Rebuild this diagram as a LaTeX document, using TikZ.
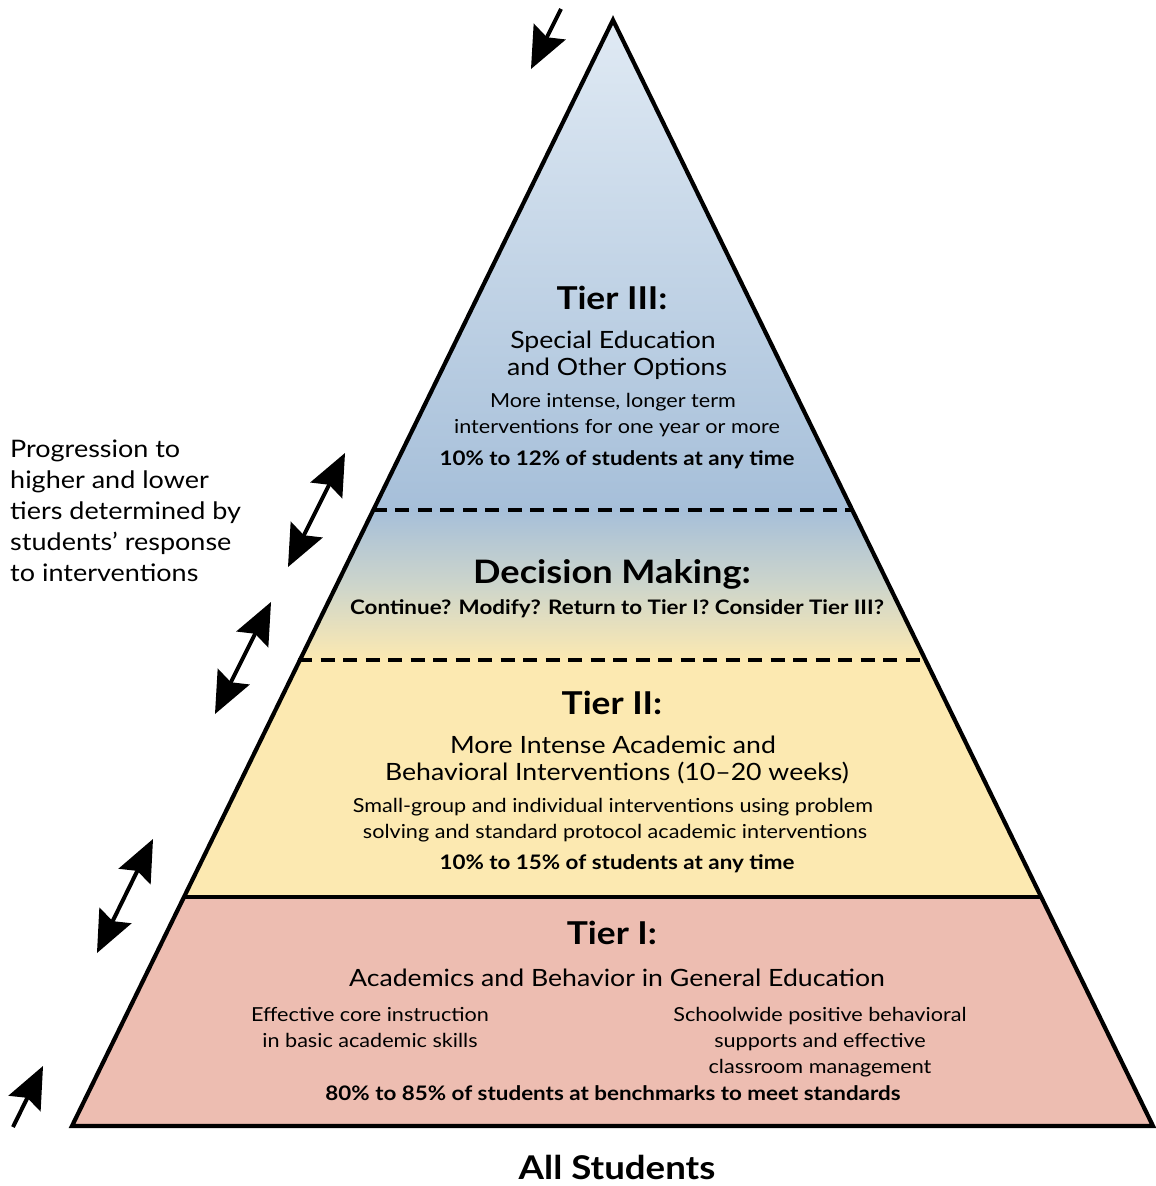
\documentclass[tikz,border=0pt]{standalone}
\usepackage{fontspec}
\setmainfont[FakeStretch=1.12]{Lato}
\usetikzlibrary{calc}
\definecolor{blueTop}{HTML}{E0EAF4}
\definecolor{blueBot}{HTML}{A6BFD9}
\definecolor{decMid}{HTML}{CDD5CB}
\definecolor{yellowT}{HTML}{FCE9B1}
\definecolor{pinkT}{HTML}{EDBDB1}
\newcommand{\fs}[2]{\fontsize{#1}{#2}\selectfont}
% kite-shaped arrow head: tip #1, pointing away from #2
\newcommand{\kitehead}[2]{%
  \fill ($(#1)!42pt!(#2)$) coordinate (kb)
        (#1) -- ($(kb)!18pt!90:(#1)$) -- ($(#1)!35.5pt!(#2)$) -- ($(kb)!18pt!-90:(#1)$) -- cycle;}
\tikzset{
  tiertitle/.style={anchor=base, font=\fs{31.5}{34}\bfseries},
  tiersub/.style={anchor=base, font=\fs{23.8}{27}, align=center},
  tierbody/.style={anchor=base, font=\fs{19.3}{26}, align=center},
  tierstat/.style={anchor=base, font=\fs{20}{22}\bfseries},
  sidetext/.style={anchor=base west, inner xsep=0pt, font=\fs{24.1}{31}, align=left},
  shaft/.style={line width=4pt},
  outline/.style={line width=4.2pt, line join=miter},
  dashsep/.style={line width=3.8pt, dash pattern=on 14pt off 8.5pt},
}
\begin{document}
\begin{tikzpicture}[x=1pt,y=-1pt]
\useasboundingbox (0,0) rectangle (1156,1186);
% geometry
\coordinate (apex) at (613,20);
\coordinate (bl) at (72,1126);
\coordinate (br) at (1153,1126);
\coordinate (l3) at (372.9,510);
\coordinate (r3) at (852.3,510);
\coordinate (l2) at (298.2,660);
\coordinate (r2) at (925.5,660);
\coordinate (l1) at (182.5,897);
\coordinate (r1) at (1040.1,897);
% fills
\shade[top color=blueTop, bottom color=blueBot] (apex) -- (r3) -- (l3) -- cycle;
\shade[top color=blueBot, bottom color=yellowT, middle color=decMid] (l3) -- (r3) -- (r2) -- (l2) -- cycle;
\fill[yellowT] (l2) -- (r2) -- (r1) -- (l1) -- cycle;
\fill[pinkT] (l1) -- (r1) -- (br) -- (bl) -- cycle;
% separators
\draw[dashsep] (l3) -- (r3);
\draw[dashsep] (l2) -- (r2);
\draw[line width=3.8pt] (l1) -- (r1);
\draw[outline] (apex) -- (br) -- (bl) -- cycle;
% arrows
\coordinate (ta1) at (561,9);   \coordinate (ta2) at (531,69);
\coordinate (ba1) at (13,1127); \coordinate (ba2) at (43,1066);
\coordinate (d1a) at (288,567); \coordinate (d1b) at (345,453);
\coordinate (d2a) at (215,714); \coordinate (d2b) at (271,602);
\coordinate (d3a) at (97,953);  \coordinate (d3b) at (153,839);
% single arrows
\draw[shaft] (ta1) -- ($(ta2)!32pt!(ta1)$) coordinate (ta2n);
\kitehead{ta2}{ta1}
\draw[shaft] (ba1) -- ($(ba2)!32pt!(ba1)$) coordinate (ba2n);
\kitehead{ba2}{ba1}
% double arrows
\draw[shaft] ($(d1a)!32pt!(d1b)$) coordinate (d1an) -- ($(d1b)!32pt!(d1a)$) coordinate (d1bn);
\kitehead{d1a}{d1b}\kitehead{d1b}{d1a}
\draw[shaft] ($(d2a)!32pt!(d2b)$) coordinate (d2an) -- ($(d2b)!32pt!(d2a)$) coordinate (d2bn);
\kitehead{d2a}{d2b}\kitehead{d2b}{d2a}
\draw[shaft] ($(d3a)!32pt!(d3b)$) coordinate (d3an) -- ($(d3b)!32pt!(d3a)$) coordinate (d3bn);
\kitehead{d3a}{d3b}\kitehead{d3b}{d3a}
% Tier III
\node[tiertitle] (t3) at (612,309) {Tier III:};
\node[tiersub] (t3s1) at (613,348) {Special Education};
\node[tiersub] (t3s2) at (617,375) {and Other Options};
\node[tierbody] (t3b1) at (613,407) {More intense, longer term};
\node[tierbody] (t3b2) at (617,433) {interventions for one year or more};
\node[tierstat] (t3st) at (617,465) {10\% to 12\% of students at any time};
% Decision
\node[anchor=base, font=\fs{32.3}{36}\bfseries] (dm) at (612,583) {Decision Making:};
\node[tierstat] (dmq) at (617,614) {Continue? Modify? Return to Tier I? Consider Tier III?};
% Tier II
\node[tiertitle] (t2) at (612,714) {Tier II:};
\node[tiersub] (t2s1) at (613,753) {More Intense Academic and};
\node[tiersub] (t2s2) at (617,780) {Behavioral Interventions (10--20 weeks)};
\node[tierbody] (t2b1) at (613,812) {Small-group and individual interventions using problem};
\node[tierbody] (t2b2) at (615,838) {solving and standard protocol academic interventions};
\node[tierstat] (t2st) at (617,869) {10\% to 15\% of students at any time};
% Tier I
\node[tiertitle] (t1) at (612,944) {Tier I:};
\node[tiersub] (t1s) at (617,986) {Academics and Behavior in General Education};
\node[tierbody] (t1l1) at (370,1021) {Effective core instruction};
\node[tierbody] (t1l2) at (370,1047) {in basic academic skills};
\node[tierbody] (t1r1) at (820,1021) {Schoolwide positive behavioral};
\node[tierbody] (t1r2) at (820,1047) {supports and effective};
\node[tierbody] (t1r3) at (820,1073) {classroom management};
\node[tierstat] (t1st) at (613,1100) {80\% to 85\% of students at benchmarks to meet standards};
% bottom label
\node[anchor=base, font=\fs{32.7}{36}\bfseries] (all) at (617,1179) {All Students};
% side text
\node[sidetext] (s1) at (10,457) {Progression to};
\node[sidetext] (s2) at (10,488) {higher and lower};
\node[sidetext] (s3) at (10,519) {tiers determined by};
\node[sidetext] (s4) at (10,550) {students’ response};
\node[sidetext] (s5) at (10,581) {to interventions};
\end{tikzpicture}
\end{document}
